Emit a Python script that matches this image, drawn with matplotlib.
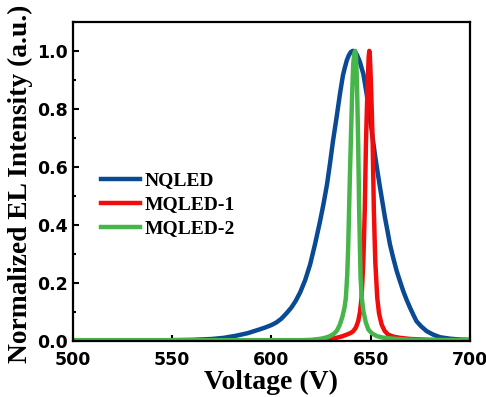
import matplotlib
matplotlib.use('Agg')
import matplotlib.pyplot as plt
from matplotlib.ticker import MultipleLocator, FormatStrFormatter

# values (wavelength, normalized intensity)
nq_x = [500, 540, 560, 570, 576, 582, 588, 594, 597, 600, 602.5, 605, 607.5,
        610, 612.2, 614.5, 617, 619.5, 622, 624.5, 626.3, 628, 629.5, 631,
        632.8, 634.5, 636, 637, 638, 639, 640, 641, 642, 643, 644.5, 646.3,
        648, 649.6, 651, 652.1, 653.4, 654.7, 656, 657.2, 658.5, 659.7, 661.4,
        663.1, 664.8, 666.4, 668.1, 669.8, 671.5, 673.1, 675.5, 678.2, 681.5,
        685, 690, 695, 700]
nq_y = [0.002, 0.002, 0.004, 0.007, 0.011, 0.018, 0.027, 0.040, 0.047, 0.055,
        0.064, 0.077, 0.095, 0.115, 0.138, 0.168, 0.210, 0.264, 0.335, 0.413,
        0.475, 0.540, 0.612, 0.689, 0.770, 0.851, 0.915, 0.943, 0.968, 0.985,
        0.996, 1.0, 0.997, 0.987, 0.963, 0.920, 0.850, 0.770, 0.700, 0.644,
        0.585, 0.529, 0.475, 0.425, 0.378, 0.333, 0.285, 0.241, 0.205, 0.172,
        0.142, 0.115, 0.090, 0.068, 0.050, 0.034, 0.022, 0.013, 0.008, 0.005,
        0.004]

mq1_x = [500, 600, 625, 629.5, 632.8, 635.5, 637.9, 640, 641.2, 642.5, 643.7,
         644.6, 645.4, 646.3, 647.0, 647.6, 648.0, 648.3, 648.7, 649.0, 649.3,
         649.6, 649.9, 650.3, 650.6, 651.0, 651.6, 652.3, 653.3, 654.2, 655.5,
         657, 658.8, 661.5, 664.7, 670, 680, 700]
mq1_y = [0.002, 0.002, 0.003, 0.006, 0.011, 0.016, 0.022, 0.028, 0.034, 0.046,
         0.068, 0.100, 0.149, 0.275, 0.448, 0.678, 0.780, 0.851, 0.930, 0.980,
         1.0, 0.980, 0.930, 0.851, 0.780, 0.678, 0.448, 0.275, 0.149, 0.095,
         0.057, 0.035, 0.022, 0.015, 0.011, 0.007, 0.004, 0.003]

mq2_x = [500, 600, 615, 620, 625, 627.5, 629.5, 631.5, 633, 634.5, 635.8, 636.8,
         637.5, 638.2, 638.7, 639.5, 640.0, 640.4, 640.8, 641.2, 641.7, 642.2,
         642.6, 642.9, 643.2, 643.7, 644.2, 644.9, 645.5, 646.3, 647.5, 648.8,
         650.5, 653.0, 656, 659.7, 665, 670, 700]
mq2_y = [0.003, 0.003, 0.003, 0.004, 0.008, 0.012, 0.017, 0.025, 0.036, 0.057,
         0.085, 0.115, 0.149, 0.230, 0.333, 0.563, 0.690, 0.793, 0.880, 0.954,
         0.990, 1.0, 0.980, 0.930, 0.851, 0.678, 0.448, 0.218, 0.150, 0.103,
         0.065, 0.040, 0.027, 0.017, 0.012, 0.009, 0.006, 0.004, 0.003]

labels = ['NQLED', 'MQLED-1', 'MQLED-2']
colors = ['#0A4A92', '#F20D0D', '#46B64A']

fig = plt.figure(figsize=(4.86, 3.97), dpi=100)
ax = fig.add_axes([0.150, 0.141, 0.817, 0.804])

ax.plot(nq_x, nq_y, color=colors[0], lw=3.2, label=labels[0])
ax.plot(mq1_x, mq1_y, color=colors[1], lw=3.2, label=labels[1])
ax.plot(mq2_x, mq2_y, color=colors[2], lw=3.2, label=labels[2])

ax.set_xlim(500, 700)
ax.set_ylim(0, 1.1)
ax.xaxis.set_major_locator(MultipleLocator(50))
ax.xaxis.set_minor_locator(MultipleLocator(25))
ax.yaxis.set_major_locator(MultipleLocator(0.2))
ax.yaxis.set_minor_locator(MultipleLocator(0.1))
ax.yaxis.set_major_formatter(FormatStrFormatter('%.1f'))

ax.tick_params(which='both', direction='in', width=1.5)
ax.tick_params(which='major', length=4)
ax.tick_params(which='minor', length=2.5)
ax.tick_params(axis='x', pad=7)
ax.tick_params(axis='y', pad=3.5)
for s in ax.spines.values():
    s.set_linewidth(1.6)

for lab in ax.get_xticklabels() + ax.get_yticklabels():
    lab.set_fontfamily('DejaVu Sans')
    lab.set_fontweight('bold')
    lab.set_fontsize(12.5)

ax.set_xlabel('Voltage (V)', fontfamily='Liberation Serif', fontweight='bold',
              fontsize=20, labelpad=1)
ax.set_ylabel('Normalized EL Intensity (a.u.)', fontfamily='Liberation Serif',
              fontweight='bold', fontsize=19.8)
ax.yaxis.set_label_coords(-0.101, 0.492)

leg = ax.legend(loc='upper left', bbox_to_anchor=(0.07, 0.53), frameon=False,
                borderpad=0, borderaxespad=0, handlelength=2.0, handletextpad=0.25,
                labelspacing=0.33,
                prop={'family': 'Liberation Serif', 'weight': 'bold', 'size': 14})

plt.savefig('out.png', dpi=100)
